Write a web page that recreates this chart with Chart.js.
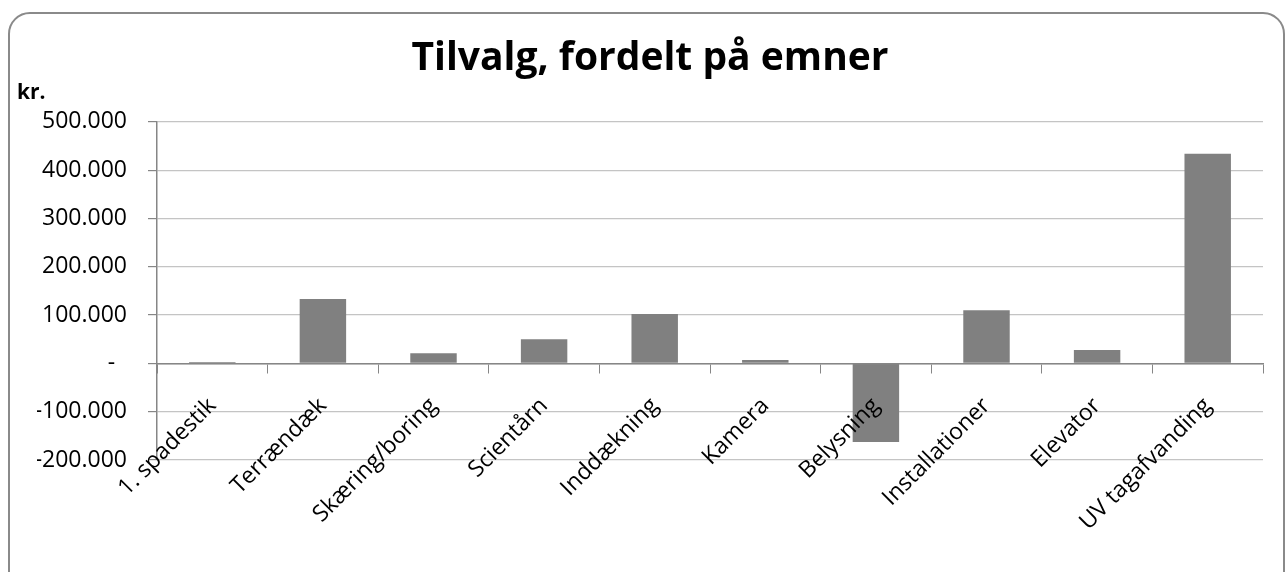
<!DOCTYPE html>
<html><head><meta charset="utf-8">
<script src="https://cdn.jsdelivr.net/npm/chart.js@4.4.0/dist/chart.umd.min.js"></script>
<style>
html,body{margin:0;padding:0;background:#fff;overflow:hidden}
#wrap{position:absolute;left:0;top:0;width:1287px;height:572px;z-index:1}
#frame{position:absolute;left:8px;top:12px;width:1277px;height:620px;border:2px solid #8a8a8a;border-radius:22px;box-sizing:border-box;z-index:0}
</style></head><body>
<div id="frame"></div>
<div id="wrap"><canvas id="c"></canvas></div>
<script>
const categories = ['1. spadestik','Terrændæk','Skæring/boring','Scientårn','Inddækning','Kamera','Belysning','Installationer','Elevator','UV tagafvanding'];
const values = [3000,133000,21000,50000,102000,7000,-163000,110000,27500,434000];
const yMin = -200000, yMax = 500000, yStep = 100000;
const titleText = 'Tilvalg, fordelt på emner';
const unitText = 'kr.';

function fmt(v){
  if (v === 0) return '-\u00a0\u00a0';
  const s = String(Math.abs(v)).replace(/\B(?=(\d{3})+(?!\d))/g,'.');
  return (v < 0 ? '-' : '') + s;
}

const unitPlugin = {
  id: 'unitLabel',
  afterDraw(chart){
    const ctx = chart.ctx;
    ctx.save();
    ctx.font = 'bold 21px "Open Sans", sans-serif';
    ctx.fillStyle = '#000';
    ctx.textAlign = 'left';
    ctx.textBaseline = 'alphabetic';
    ctx.fillText(unitText, 17, 99);
    ctx.restore();
  }
};

const LEFT_PAD = 37;
new Chart(document.getElementById('c'), {
  type: 'bar',
  data: {
    labels: categories,
    datasets: [{
      data: values,
      backgroundColor: '#808080',
      borderWidth: 0,
      categoryPercentage: 1,
      barPercentage: 0.42
    }]
  },
  options: {
    responsive: true,
    maintainAspectRatio: false,
    animation: false,
    layout: { padding: { left: LEFT_PAD, right: 24, top: 12, bottom: 112 } },
    plugins: {
      legend: { display: false },
      tooltip: { enabled: false },
      title: {
        display: true,
        text: titleText,
        color: '#000',
        font: { family: '"Open Sans", sans-serif', size: 39, weight: 'bold' },
        padding: { top: 23, bottom: 40 }
      }
    },
    scales: {
      x: {
        position: { y: 0 },
        grid: { display: true, drawOnChartArea: false, drawTicks: true, tickLength: 9, offset: true, color: '#868686', z: 1 },
        border: { display: true, color: '#868686', width: 1.5, z: 1 },
        ticks: {
          z: 1,
          autoSkip: false, minRotation: 45, maxRotation: 45, padding: 20,
          color: '#000',
          font: { family: '"Open Sans", sans-serif', size: 23 }
        }
      },
      y: {
        min: yMin, max: yMax,
        afterFit(scale){ scale.width = 157 - LEFT_PAD; },
        grid: { color: '#c4c4c4', lineWidth: 1.2, drawTicks: true, tickLength: 9, tickColor: '#868686' },
        border: { display: true, color: '#868686', width: 1.5 },
        ticks: {
          stepSize: yStep,
          padding: 21,
          color: '#000',
          font: { family: '"Open Sans", sans-serif', size: 23 },
          callback: (v) => fmt(v)
        }
      }
    }
  },
  plugins: [unitPlugin]
});
</script>
</body></html>
